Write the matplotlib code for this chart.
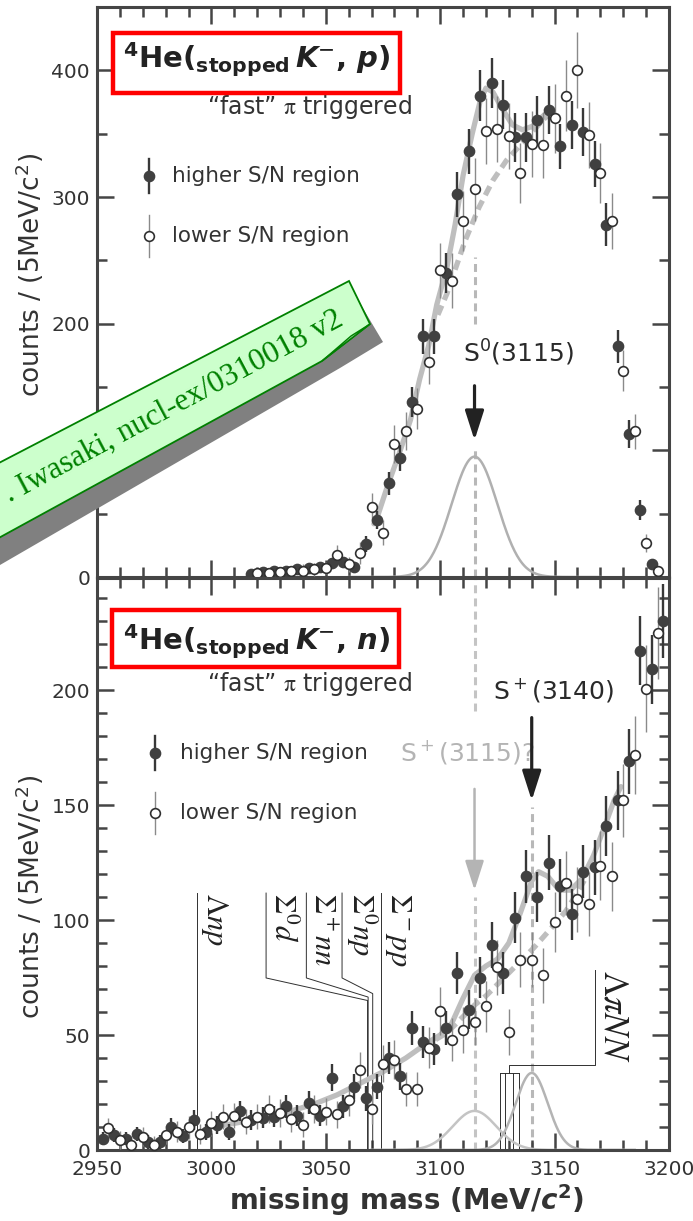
import numpy as np
import matplotlib
matplotlib.use('Agg')
import matplotlib.pyplot as plt
from matplotlib.patches import Rectangle, Polygon
from matplotlib.ticker import MultipleLocator

plt.rcParams['font.family'] = 'DejaVu Sans'
plt.rcParams['mathtext.fontset'] = 'custom'
plt.rcParams['mathtext.rm'] = 'DejaVu Sans'
plt.rcParams['mathtext.it'] = 'DejaVu Sans:italic'
plt.rcParams['mathtext.bf'] = 'DejaVu Sans:bold'
plt.rcParams['mathtext.bfit'] = 'DejaVu Sans:italic:bold'

AX = '#454545'
TXT = '#333333'
CURVE = '#bebebe'

# ---- 4He(K-, p) : missing mass spectrum, 5 MeV bins ----
p_hi_x = [3017.5, 3022.5, 3027.5, 3032.5, 3037.5, 3042.5, 3047.5, 3052.5, 3057.5, 3062.5,
          3067.5, 3072.5, 3077.5, 3082.5, 3087.5, 3092.5, 3097.5, 3102.5, 3107.5, 3112.5,
          3117.5, 3122.5, 3127.5, 3132.5, 3137.5, 3142.5, 3147.5, 3152.5, 3157.5, 3162.5,
          3167.5, 3172.5, 3177.5, 3182.5, 3187.5, 3192.5]
p_hi_y = [2, 4, 5, 5, 6, 7, 8, 11, 12, 8,
          26, 45, 74, 94, 138, 190, 190, 240, 302, 336,
          380, 390, 373, 347, 347, 361, 369, 340, 357, 351,
          326, 278, 182, 113, 53, 10]
p_hi_err = [2, 3, 3, 3, 3, 4, 4, 4, 4, 4,
            6, 7, 9, 10, 12, 14, 14, 16, 18, 18,
            20, 20, 19, 19, 19, 19, 19, 18, 19, 19,
            18, 17, 13, 11, 8, 4]

p_lo_x = [3020, 3025, 3030, 3035, 3040, 3045, 3050, 3055, 3060, 3065,
          3070, 3075, 3080, 3085, 3090, 3095, 3100, 3105, 3110, 3115,
          3120, 3125, 3130, 3135, 3140, 3145, 3150, 3155, 3160, 3165,
          3170, 3175, 3180, 3185, 3190, 3195]
p_lo_y = [3, 3, 4, 5, 5, 6, 7, 17, 10, 19,
          55, 35, 105, 115, 133, 170, 242, 234, 281, 306,
          352, 354, 348, 319, 342, 341, 362, 380, 400, 349,
          319, 281, 163, 115, 27, 5]
p_lo_err = [4, 4, 4, 4, 5, 5, 5, 8, 6, 9,
            11, 10, 15, 15, 16, 18, 22, 22, 24, 25,
            26, 26, 26, 24, 26, 26, 27, 28, 30, 26,
            24, 22, 16, 14, 7, 4]

# fit: total (solid) and background (dashed), S0(3115) peak
p_fit_x = [3071, 3073, 3077, 3082, 3087, 3091, 3095, 3098.5, 3103, 3106.5,
           3110, 3114, 3117.5, 3120, 3123, 3127, 3131.5, 3136, 3140.5, 3145, 3148]
p_fit_y = [42, 50, 72, 97, 124, 156, 183, 215, 245, 278,
           317, 350, 376, 386, 383, 370, 357, 353, 356, 364, 368]
p_bg_x = [3099, 3103, 3106, 3111, 3117, 3123, 3129, 3135, 3140, 3145, 3148]
p_bg_y = [207, 224, 240, 266, 292, 313, 329, 341, 351, 361, 366]
p_peak = dict(mass=3115, amp=95, sigma=10)

# ---- 4He(K-, n) ----
n_hi_x = [2952.5, 2957.5, 2962.5, 2967.5, 2972.5, 2977.5, 2982.5, 2987.5, 2992.5, 2997.5,
          3002.5, 3007.5, 3012.5, 3017.5, 3022.5, 3027.5, 3032.5, 3037.5, 3042.5, 3047.5,
          3052.5, 3057.5, 3062.5, 3067.5, 3072.5, 3077.5, 3082.5, 3087.5, 3092.5, 3097.5,
          3102.5, 3107.5, 3112.5, 3117.5, 3122.5, 3127.5, 3132.5, 3137.5, 3142.5, 3147.5,
          3152.5, 3157.5, 3162.5, 3167.5, 3172.5, 3177.5, 3182.5, 3187.5, 3192.5, 3197.5]
n_hi_y = [5, 6.5, 5, 7, 3.5, 3.5, 10, 6, 13, 8,
          11, 8, 17, 13, 14, 14.5, 19, 15, 20.5, 15,
          31.5, 19, 27.5, 22.5, 27.5, 40, 32, 53, 47, 44,
          53, 77, 61, 75, 89, 77, 101, 119, 110, 125,
          115, 102.5, 121, 123, 141, 152, 169, 217, 209, 230]
n_hi_err = [3, 3, 3, 3, 3, 3, 4, 3, 4.5, 3.5,
            4, 3.5, 4.5, 4.5, 4.5, 4.5, 5, 4.5, 5, 4.5,
            6, 5, 5.5, 5.5, 5.5, 7, 6, 7.5, 7, 7,
            7.5, 9, 8.5, 9, 10, 9, 11, 11.5, 11, 12,
            11.5, 11, 11.5, 12, 13, 13, 14, 15, 15, 16]

n_lo_x = [2955, 2960, 2965, 2970, 2975, 2980, 2985, 2990, 2995, 3000,
          3005, 3010, 3015, 3020, 3025, 3030, 3035, 3040, 3045, 3050,
          3055, 3060, 3065, 3070, 3075, 3080, 3085, 3090, 3095, 3100,
          3105, 3110, 3115, 3120, 3125, 3130, 3135, 3140, 3145, 3150,
          3155, 3160, 3165, 3170, 3175, 3180, 3185, 3190, 3195]
n_lo_y = [9.4, 4.3, 2.2, 5.8, 2.2, 6.5, 8, 10, 7, 11.6,
          14.5, 15, 12.3, 14.5, 17.7, 16, 13.3, 11, 17.7, 16.7,
          15.5, 21.7, 34.8, 17.7, 37.5, 39.3, 26.5, 26.5, 44.5, 60.5,
          48, 52, 55.7, 62.5, 79.5, 51.2, 82.8, 82.8, 76, 99,
          116, 109, 107, 123.5, 119, 152, 171.8, 200.6, 225]
n_lo_err = [4.5, 4, 4, 4, 4, 4, 4.5, 5, 4.5, 5.5,
            5.5, 5.5, 5.5, 5.5, 6, 6, 5.5, 5.5, 6, 6,
            6, 7, 8, 6.5, 8, 8.5, 7.5, 7.5, 9, 10.5,
            9.5, 10, 10, 11, 12, 10, 12, 12, 12, 13,
            14, 14, 14, 15, 15, 16, 17, 19, 20]

n_fit_x = [3004, 3015, 3025, 3035, 3045, 3055, 3065, 3075, 3085, 3095,
           3100, 3105, 3110, 3115, 3120, 3125, 3130, 3135, 3140, 3143,
           3147, 3152, 3157, 3162, 3167, 3172, 3176, 3179]
n_fit_y = [10.5, 12.5, 14.5, 17, 20, 24, 29, 34, 40, 47,
           50, 55, 66, 76, 80, 83, 90, 103, 117, 121,
           119, 113, 113, 118, 128, 141, 152, 158]
n_bg_x = [3098, 3103, 3108, 3115, 3120, 3126, 3133, 3141, 3149, 3155, 3160, 3164]
n_bg_y = [48, 51, 56, 63, 67, 73, 80, 88, 97, 104, 112, 119]
n_peaks = [dict(mass=3115, amp=17, sigma=9.5, color='#c4c4c4'),
           dict(mass=3140, amp=33.5, sigma=7, color='#b4b4b4')]

# thresholds (MeV) for the K- 4He -> n + X channels
thr_labels = [r'$\Lambda np$', r'$\Sigma^0 d$', r'$\Sigma^+ nn$', r'$\Sigma^0 np$', r'$\Sigma^- pp$']
thr_mass = [2993.5, 3068.25, 3068.5, 3070.5, 3074.0]
lpinn_mass = [3126.3, 3128.5, 3131.8, 3134.4]


def gauss(x, mass, amp, sigma):
    return amp * np.exp(-0.5 * ((x - mass) / sigma) ** 2)


def style_axes(ax, ymax, ymaj, ymin):
    ax.set_xlim(2950, 3200)
    ax.set_ylim(0, ymax)
    ax.xaxis.set_major_locator(MultipleLocator(50))
    ax.xaxis.set_minor_locator(MultipleLocator(10))
    ax.yaxis.set_major_locator(MultipleLocator(ymaj))
    ax.yaxis.set_minor_locator(MultipleLocator(ymin))
    ax.tick_params(which='both', direction='in', top=True, right=True,
                   color=AX, width=1.8, labelsize=14.5, labelcolor=TXT)
    ax.tick_params(which='major', length=12)
    ax.tick_params(which='minor', length=7)
    ax.tick_params(axis='y', pad=5)
    ax.tick_params(axis='x', pad=7)
    for s in ax.spines.values():
        s.set_linewidth(2.2)
        s.set_color(AX)
    ax.set_ylabel('counts / (5MeV/c$^2$)', fontsize=19, color=TXT)


def draw_points(ax, xh, yh, eh, xl, yl, el):
    ax.errorbar(xl, yl, yerr=el, fmt='none', ecolor='#8a8a8a', elinewidth=1.0,
                capsize=0, zorder=3)
    ax.errorbar(xh, yh, yerr=eh, fmt='none', ecolor='#383838', elinewidth=1.7,
                capsize=0, zorder=4)
    ax.plot(xh, yh, 'o', ms=7.4, mfc='#404040', mec='#404040', zorder=5, clip_on=False)
    ax.plot(xl, yl, 'o', ms=7.0, mfc='white', mec='#303030', mew=1.2, zorder=6,
            clip_on=False)


def draw_key(ax, xm, xt, y_hi, y_lo, bar_hi, bar_lo):
    tr = ax.transAxes
    ax.plot([xm, xm], [y_hi - bar_hi, y_hi + bar_hi], color='#383838', lw=1.7, transform=tr)
    ax.plot([xm], [y_hi], 'o', ms=7.4, color='#404040', transform=tr)
    ax.text(xt, y_hi, 'higher S/N region', transform=tr, fontsize=15.5, color=TXT,
            va='center', ha='left')
    ax.plot([xm, xm], [y_lo - bar_lo, y_lo + bar_lo], color='#8a8a8a', lw=1.0, transform=tr)
    ax.plot([xm], [y_lo], 'o', ms=7.0, mfc='white', mec='#303030', mew=1.2, transform=tr)
    ax.text(xt, y_lo, 'lower S/N region', transform=tr, fontsize=15.5, color=TXT,
            va='center', ha='left')


def draw_title(ax, box, tx, ty, reaction, sub_y):
    ax.add_patch(Rectangle((box[0], box[1]), box[2], box[3], transform=ax.transAxes,
                           facecolor='white', edgecolor='#ff0000', lw=3.2, zorder=7))
    ax.text(tx, ty, r'$^{\mathbf{4}}$He($_{\mathbf{stopped}}\,\mathbfit{K}^{-}$, $\mathbfit{'
            + reaction + r'}$)', transform=ax.transAxes, fontsize=21, fontweight='bold',
            color='#222222', va='baseline', ha='left', zorder=8)
    ax.text(0.372, sub_y, r'“fast” $\mathrm{\pi}$ triggered', transform=ax.transAxes,
            fontsize=17, color=TXT, ha='center', va='center', math_fontfamily='stix')


def vdash(ax, x, y0, y1, color):
    ax.plot([x, x], [y0, y1], color=color, lw=2.2, ls=(0, (2.6, 1.7)), zorder=1.5)


def arrow(ax, x, y_from, y_to, color, lw):
    ax.annotate('', xy=(x, y_to), xytext=(x, y_from),
                arrowprops=dict(arrowstyle='-|>,head_length=0.72,head_width=0.23',
                                color=color, lw=lw, mutation_scale=25,
                                shrinkA=0, shrinkB=0), zorder=6)


fig = plt.figure(figsize=(6.93, 12.21), dpi=100)
ax1 = fig.add_axes([97 / 693, 1 - 577 / 1221, 572 / 693, 570 / 1221])
ax2 = fig.add_axes([97 / 693, 1 - 1150 / 1221, 572 / 693, 572 / 1221])

# ---------------- upper panel: (K-, p) ----------------
style_axes(ax1, 450, 100, 50)
ax1.tick_params(axis='x', labelbottom=False)
ax1.yaxis.set_label_coords(-0.09, 0.53)

gx = np.linspace(3060, 3170, 300)
ax1.plot(gx, gauss(gx, **p_peak), color='#b0b0b0', lw=1.8, zorder=2)
ax1.plot(p_fit_x, p_fit_y, color=CURVE, lw=3.8, solid_capstyle='round', zorder=2)
ax1.plot(p_bg_x, p_bg_y, color=CURVE, lw=3.8, ls=(0, (1.9, 1.15)), zorder=2)

m0 = p_peak['mass']
vdash(ax1, m0, 0, 103, '#b8b8b8')
vdash(ax1, m0, 200, 253, '#b8b8b8')
arrow(ax1, m0, 151, 108, '#222222', 2.3)
ax1.text(3110, 177, 'S$^0$(3115)', fontsize=18, color='#2a2a2a', ha='left', va='center')

draw_points(ax1, p_hi_x, p_hi_y, p_hi_err, p_lo_x, p_lo_y, p_lo_err)
draw_title(ax1, (0.028, 0.849, 0.502, 0.105), 0.045, 0.893, 'p', 0.825)
draw_key(ax1, 0.091, 0.131, 0.703, 0.598, 0.030, 0.037)

# ---------------- lower panel: (K-, n) ----------------
style_axes(ax2, 248.7, 50, 10)
ax2.yaxis.set_label_coords(-0.09, 0.442)
ax2.set_xlabel('missing mass (MeV/$\\mathbfit{c}^{\\mathbf{2}}$)', fontsize=20,
               fontweight='bold', color=TXT)
ax2.xaxis.set_label_coords(0.54, -0.056)

gx = np.linspace(3070, 3185, 300)
for pk in n_peaks:
    ax2.plot(gx, gauss(gx, pk['mass'], pk['amp'], pk['sigma']), color=pk['color'],
             lw=1.8, zorder=2)
ax2.plot(n_fit_x, n_fit_y, color=CURVE, lw=3.8, solid_capstyle='round', zorder=2)
ax2.plot(n_bg_x, n_bg_y, color=CURVE, lw=3.8, ls=(0, (1.9, 1.15)), zorder=2)

m1, m2 = n_peaks[0]['mass'], n_peaks[1]['mass']
vdash(ax2, m1, 0, 110, '#c4c4c4')
vdash(ax2, m1, 191, 249, '#c4c4c4')
arrow(ax2, m1, 157, 113, '#b4b4b4', 1.8)
ax2.text(3082.4, 173, 'S$^+$(3115)?', fontsize=18, color='#b4b4b4', ha='left', va='center')
vdash(ax2, m2, 0, 149, '#b8b8b8')
arrow(ax2, m2, 188, 152, '#222222', 2.3)
ax2.text(3123.1, 200, 'S$^+$(3140)', fontsize=18, color='#2a2a2a', ha='left', va='center')

# threshold markers with leader lines
LC = '#303030'
label_top = 111.7
label_x = [2993.5, 3023.9, 3041.5, 3057.1, 3074.0]
bend_y = [None, 65, 66.5, 68, None]
for lab, m, lx, by in zip(thr_labels, thr_mass, label_x, bend_y):
    if by is None:
        ax2.plot([m, m], [0, label_top], color=LC, lw=0.7, zorder=1.8)
    else:
        ax2.plot([lx, lx, m, m], [label_top, 74.8, by, 0], color=LC, lw=0.7, zorder=1.8)
    ax2.annotate(lab, xy=(lx, label_top), xytext=(1.5, 0), textcoords='offset points',
                 rotation=-90, ha='left', va='top', fontsize=22, color='#222222',
                 math_fontfamily='stix')

lp_top, lp_lead_x, lp_join_x, lp_y, lp_bar = 78.3, 3167.7, 3129.9, 37, 33.5
ax2.plot([lp_lead_x, lp_lead_x, lp_join_x, lp_join_x], [lp_top, lp_y, lp_y, lp_bar],
         color=LC, lw=0.7, zorder=1.8)
ax2.plot([min(lpinn_mass), max(lpinn_mass)], [lp_bar, lp_bar], color=LC, lw=0.7, zorder=1.8)
for m in lpinn_mass:
    ax2.plot([m, m], [0, lp_bar], color=LC, lw=0.7, zorder=1.8)
ax2.annotate(r'$\Lambda\pi NN$', xy=(lp_lead_x, lp_top), xytext=(1.5, 0),
             textcoords='offset points', rotation=-90, ha='left', va='top', fontsize=25,
             color='#222222', math_fontfamily='stix')

draw_points(ax2, n_hi_x, n_hi_y, n_hi_err, n_lo_x, n_lo_y, n_lo_err)
draw_title(ax2, (0.026, 0.844, 0.502, 0.100), 0.045, 0.874, 'n', 0.815)
draw_key(ax2, 0.101, 0.145, 0.694, 0.589, 0.030, 0.037)

# ---------------- preprint stamp across the upper panel ----------------
ov = fig.add_axes([0, 0, 1, 1], zorder=10)
ov.set_xlim(0, 693)
ov.set_ylim(1221, 0)
ov.axis('off')
ov.add_patch(Polygon([(0, 505), (352, 290), (383, 342), (340, 368), (0, 565)],
                     closed=True, facecolor='#808080', edgecolor='none'))
ov.add_patch(Polygon([(-5, 465), (349, 281), (370, 324), (322, 361), (-5, 540)],
                     closed=True, facecolor='#ccffcc', edgecolor='#008000', lw=1.3))
ov.add_patch(Polygon([(370, 324), (322, 361), (351, 336)], closed=True,
                     facecolor='#a9d9a9', edgecolor='#008000', lw=1.0))
ov.text(341, 318, '. Iwasaki, nucl-ex/0310018 v2', rotation=28, rotation_mode='anchor',
        ha='right', va='center', fontsize=22.5, color='#008000', family='Liberation Serif')

fig.savefig('out.png', dpi=100)
